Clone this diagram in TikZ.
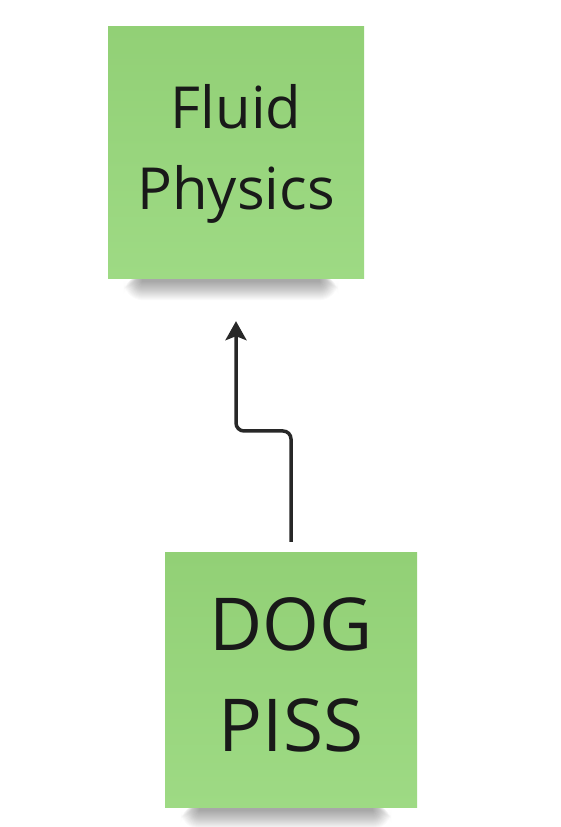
\documentclass[tikz,border=0pt]{standalone}
\usepackage{fontspec}
\setmainfont{Open Sans}
\usetikzlibrary{arrows.meta}
\definecolor{stickytop}{RGB}{146,208,118}
\definecolor{stickybot}{RGB}{158,218,132}
\definecolor{arrowgray}{RGB}{40,40,40}
\pgfdeclarelayer{paper}
\pgfdeclarelayer{shade}
\pgfsetlayers{paper,shade,main}
\tikzset{
  sticky/.style={rectangle, inner sep=0pt, top color=stickytop, bottom color=stickybot, draw=none,
    align=center, text=black!90},
  shadowlayer/.style={fill=black, fill opacity=0.02, rounded corners=#1},
  conn/.style={draw=arrowgray, line width=3.5pt, rounded corners=8pt,
    -{Stealth[length=19pt,width=21pt,inset=4pt]}}
}
\newcommand{\stacklines}[3]{\raisebox{#1}{\begin{tabular}{@{}c@{}}#2\\#3\end{tabular}}}
\newcommand{\stickyshadow}[1]{%
  \foreach \i in {0,...,18}{%
    \fill[shadowlayer=\i pt+1pt] ([xshift=34pt-\i pt, yshift=4pt]#1.south west) rectangle ([xshift=-44pt+\i pt, yshift=-3pt-\i pt]#1.south east);
  }}
\begin{document}
\begin{tikzpicture}[x=1pt,y=1pt]
\begin{pgfonlayer}{paper}
\fill[white] (0,0) rectangle (560,827);
\end{pgfonlayer}
\useasboundingbox (0,0) rectangle (560,827);
\node[sticky, minimum width=256pt, minimum height=252pt,
  font=\fontsize{58}{81}\selectfont] (fluid) at (236,674) {\stacklines{-4pt}{Fluid}{Physics}};
\node[sticky, minimum width=252pt, minimum height=255pt,
  font=\fontsize{73}{101}\selectfont] (dog) at (291,146.5) {\stacklines{5pt}{DOG}{PISS}};
\begin{pgfonlayer}{shade}
\stickyshadow{fluid}
\stickyshadow{dog}
\end{pgfonlayer}
\coordinate (bend) at (263,396);
\draw[conn] ([yshift=11pt]dog.north) -- (dog.north |- bend) -- (fluid.south |- bend) -- ([yshift=-42pt]fluid.south);
\end{tikzpicture}
\end{document}
